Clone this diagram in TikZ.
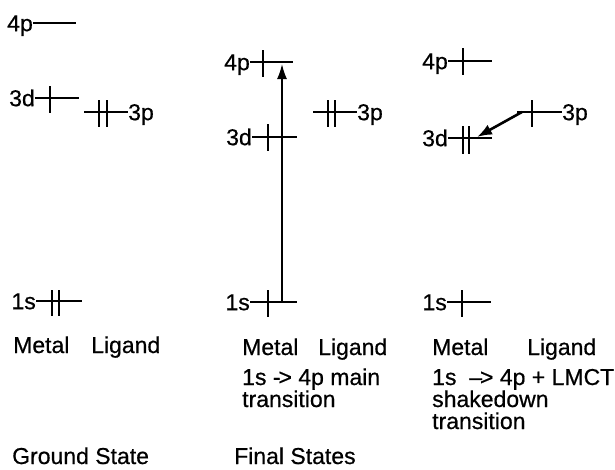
\documentclass[tikz,border=0pt]{standalone}
\usepackage{fontspec}
\setmainfont[FakeBold=0.6]{Liberation Sans}
\usetikzlibrary{arrows.meta}
\begin{document}
\begin{tikzpicture}[x=1pt,y=-1pt,
  lvl/.style={line width=1.7pt},
  tck/.style={line width=1.4pt},
  lab/.style={inner sep=0pt,font=\fontsize{23}{26}\selectfont},
  llab/.style={lab,anchor=base east,yshift=-8.2pt},
  rlab/.style={lab,anchor=base west,yshift=-8.2pt},
  txt/.style={lab,anchor=base west},
  arr/.style={line width=1.7pt,-{Latex[length=15pt,width=10pt]}},
  arrb/.style={line width=2.6pt,-{Latex[length=15pt,width=11pt]}}]
\useasboundingbox (0,0) rectangle (615,469);
% ---------- Ground state ----------
\coordinate (g4pa) at (33,23);  \coordinate (g4pb) at (76,23);
\draw[lvl] (g4pa) -- (g4pb);
\node[llab] (g4pl) at (g4pa) {4p};
\coordinate (g3da) at (35,98);  \coordinate (g3db) at (79,98);
\draw[lvl] (g3da) -- (g3db);
\node[llab] (g3dl) at (g3da) {3d};
\draw[tck] (50,86) -- (50,113);
\coordinate (g3pa) at (84,112); \coordinate (g3pb) at (128,112);
\draw[lvl] (g3pa) -- (g3pb);
\node[rlab] (g3pl) at (g3pb) {3p};
\draw[tck] (99,100) -- (99,127);
\draw[tck] (107,100) -- (107,127);
\coordinate (g1sa) at (36,301); \coordinate (g1sb) at (82,301);
\draw[lvl] (g1sa) -- (g1sb);
\node[llab] (g1sl) at (g1sa) {1s};
\draw[tck] (52,290) -- (52,316);
\draw[tck] (59,290) -- (59,316);
\node[txt] (gm) at (13,353) {Metal};
\node[txt] (gl) at (91,353) {Ligand};
\node[txt] (gs) at (12,464) {Ground State};
% ---------- Final state 1 ----------
\coordinate (m4pa) at (250,62);  \coordinate (m4pb) at (293,62);
\draw[lvl] (m4pa) -- (m4pb);
\node[llab] (m4pl) at (m4pa) {4p};
\draw[tck] (263,50) -- (263,77);
\coordinate (m3da) at (252,137); \coordinate (m3db) at (297,137);
\draw[lvl] (m3da) -- (m3db);
\node[llab] (m3dl) at (m3da) {3d};
\draw[tck] (268,124) -- (268,151);
\draw[tck] (282,124) -- (282,151);
\coordinate (m3pa) at (313,112); \coordinate (m3pb) at (357,112);
\draw[lvl] (m3pa) -- (m3pb);
\node[rlab] (m3pl) at (m3pb) {3p};
\draw[tck] (328,100) -- (328,127);
\draw[tck] (335,100) -- (335,127);
\coordinate (m1sa) at (250,302); \coordinate (m1sb) at (297,302);
\draw[lvl] (m1sa) -- (m1sb);
\node[llab] (m1sl) at (m1sa) {1s};
\draw[tck] (268,290) -- (268,317);
\coordinate (marrA) at (282,302); \coordinate (marrB) at (282,64);
\draw[arr] (marrA) -- (marrB);
\node[txt] (mm) at (242,355) {Metal};
\node[txt] (ml) at (318,355) {Ligand};
\node[txt] (mt1) at (242,385) {1s -\kern-2pt> 4p main};
\node[txt] (mt2) at (242,407) {transition};
\node[txt] (fs) at (234,464) {Final States};
% ---------- Final state 2 ----------
\coordinate (r4pa) at (448,61);  \coordinate (r4pb) at (492,61);
\draw[lvl] (r4pa) -- (r4pb);
\node[llab] (r4pl) at (r4pa) {4p};
\draw[tck] (463,48) -- (463,75);
\coordinate (r3da) at (448,138); \coordinate (r3db) at (492,138);
\draw[lvl] (r3da) -- (r3db);
\node[llab] (r3dl) at (r3da) {3d};
\draw[tck] (463,126) -- (463,154);
\draw[tck] (469,126) -- (469,154);
\coordinate (r3pa) at (517,112); \coordinate (r3pb) at (562,112);
\draw[lvl] (r3pa) -- (r3pb);
\node[rlab] (r3pl) at (r3pb) {3p};
\draw[tck] (532,100) -- (532,127);
\coordinate (r1sa) at (447,302); \coordinate (r1sb) at (491,302);
\draw[lvl] (r1sa) -- (r1sb);
\node[llab] (r1sl) at (r1sa) {1s};
\draw[tck] (462,290) -- (462,317);
\coordinate (rarrA) at (522,112); \coordinate (rarrB) at (477,137);
\draw[arrb] (rarrA) -- (rarrB);
\node[txt] (rm) at (432,355) {Metal};
\node[txt] (rl) at (527,355) {Ligand};
\node[txt] (rt1) at (432,385) {1s\ \ –\kern-2pt> 4p + LMCT};
\node[txt] (rt2) at (432,407) {shakedown};
\node[txt] (rt3) at (432,429) {transition};
\end{tikzpicture}
\end{document}
